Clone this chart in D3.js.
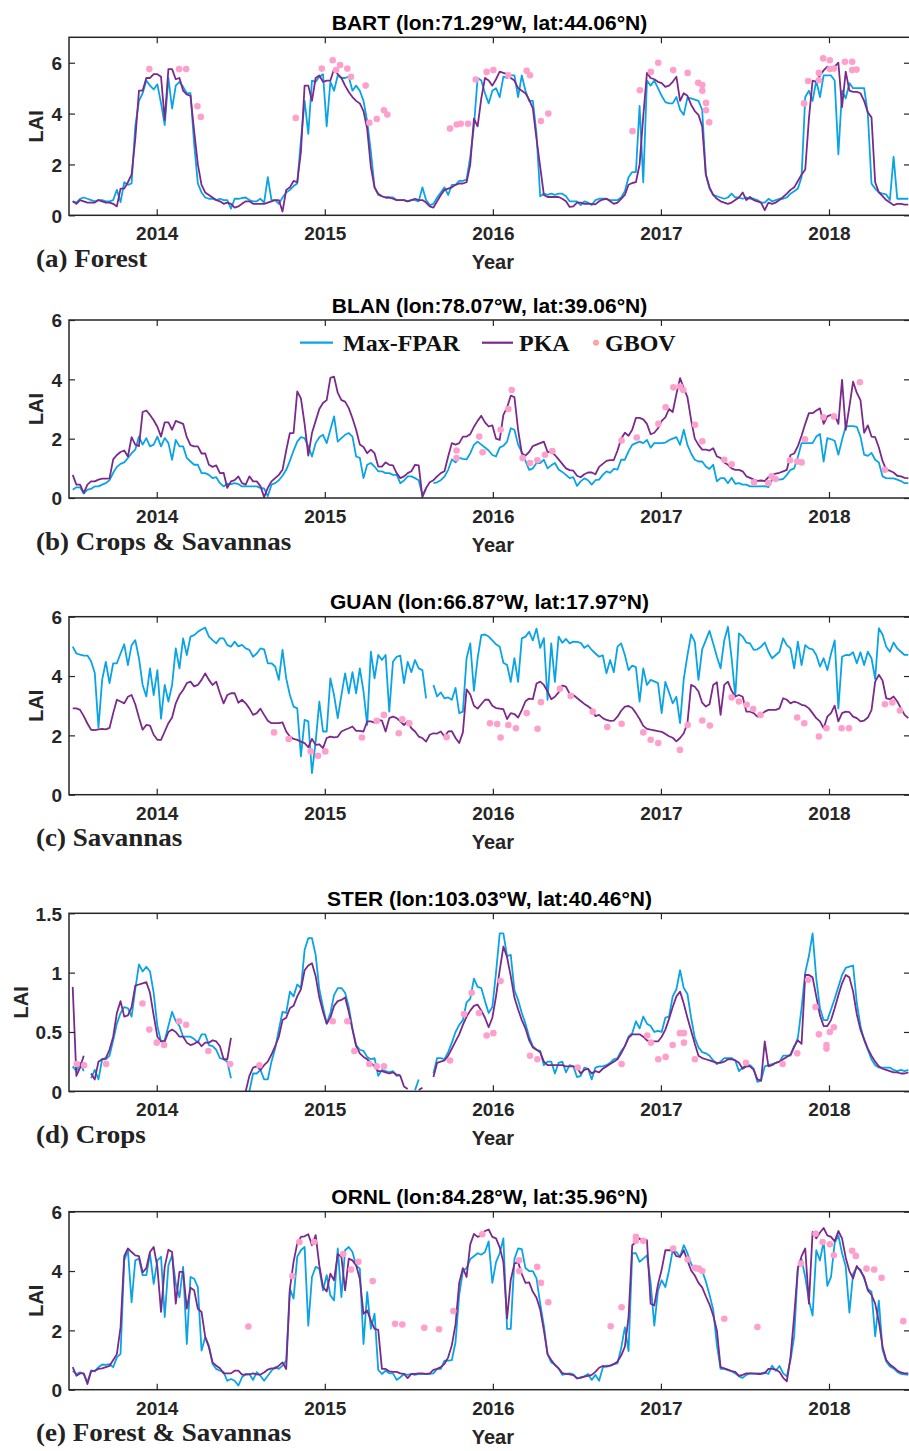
<!DOCTYPE html>
<html><head><meta charset="utf-8">
<script src="https://cdn.jsdelivr.net/npm/d3@7"></script>
<style>body{margin:0;background:#fff}svg{display:block}</style>
</head><body>
<svg id="c" width="909" height="1451"></svg>
<script>
// ---------- DATA ----------
const yearTicks = [2014, 2015, 2016, 2017, 2018];
const nSteps = 228;             // 8-day composites starting mid-2013
const startYear = 2013.5, stepYears = 8 / 365.25;
const dates = d3.range(nSteps).map(i => startYear + i * stepYears);

const titles = ["BART (lon:71.29°W, lat:44.06°N)", "BLAN (lon:78.07°W, lat:39.06°N)",
  "GUAN (lon:66.87°W, lat:17.97°N)", "STER (lon:103.03°W, lat:40.46°N)", "ORNL (lon:84.28°W, lat:35.96°N)"];
const tags = ["(a) Forest", "(b) Crops & Savannas", "(c) Savannas", "(d) Crops", "(e) Forest & Savannas"];
const yMaxes = [7, 6, 6, 1.5, 6];
const yTickSets = [[0,2,4,6],[0,2,4,6],[0,2,4,6],[0,0.5,1,1.5],[0,2,4,6]];
const seriesNames = ["Max-FPAR", "PKA", "GBOV"];

const bartMax = [
0.55,0.5,0.65,0.7,0.65,0.6,0.55,0.6,0.6,0.55,
0.55,0.6,1.0,0.52,1.3,1.2,1.25,3.5,4.5,4.8,
5.3,5.1,4.95,5.15,4.4,3.55,5.4,4.2,5.1,5.25,
5.05,4.8,4.8,2.8,1.25,0.9,0.7,0.65,0.65,0.6,
0.65,0.6,0.6,0.26,0.65,0.65,0.68,0.7,0.6,0.55,
0.55,0.65,0.5,1.5,0.6,0.6,0.45,0.7,0.9,1.0,
1.15,1.25,2.95,4.5,3.2,5.3,5.25,5.45,5.55,3.5,
5.25,4.9,5.5,5.4,5.4,5.45,4.9,5.1,4.9,4.5,
3.7,2.5,1.1,0.8,0.75,0.7,0.7,0.7,0.6,0.6,
0.6,0.55,0.6,0.6,0.55,1.1,0.6,0.4,0.45,0.7,
0.9,1.1,0.8,1.2,1.2,1.35,1.35,1.4,2.3,3.5,
5.4,5.3,4.8,4.4,4.9,5.0,4.65,5.45,5.4,5.5,
5.5,4.65,5.5,4.9,4.5,4.5,3.2,0.75,0.85,0.8,
0.85,0.8,0.85,0.85,0.75,0.55,0.55,0.55,0.4,0.55,
0.5,0.4,0.6,0.65,0.65,0.65,0.6,0.6,0.6,0.7,
0.95,1.5,1.7,1.7,4.3,1.3,5.3,5.1,5.3,5.0,
4.7,4.45,4.4,4.4,4.65,4.15,3.95,4.63,4.6,4.55,
4.5,4.15,1.6,1.05,0.8,0.75,0.7,0.65,0.7,0.85,
0.7,0.7,0.65,0.7,0.65,0.65,0.6,0.5,0.5,0.65,
0.55,0.6,0.65,0.65,0.7,0.85,0.95,1.05,1.5,4.65,
4.9,4.5,5.3,4.65,5.5,5.5,5.5,5.3,2.4,4.9,
4.6,5.2,5.0,5.0,5.0,5.0,4.0,1.25,1.05,0.9,
0.85,0.82,0.6,2.3,0.65,0.65,0.65,0.65];
const bartPka = [
0.55,0.45,0.6,0.55,0.5,0.5,0.5,0.6,0.55,0.5,
0.5,0.45,0.35,1.05,1.05,1.3,1.6,3.0,4.9,4.9,
5.4,5.4,5.55,5.55,5.45,3.75,5.75,5.75,5.35,5.4,
4.9,4.75,4.7,3.3,2.0,1.2,0.9,0.8,0.7,0.6,
0.55,0.45,0.5,0.45,0.3,0.35,0.45,0.55,0.55,0.45,
0.45,0.45,0.45,0.5,0.55,0.6,0.6,0.15,1.0,1.1,
1.35,1.3,2.5,5.1,5.1,4.5,5.4,5.5,5.25,5.3,
5.3,5.75,5.55,5.4,5.1,4.85,4.65,4.5,4.4,4.1,
3.4,1.9,1.1,0.85,0.75,0.7,0.7,0.65,0.6,0.6,
0.6,0.55,0.6,0.65,0.6,0.6,0.5,0.35,0.3,0.55,
0.8,1.0,1.05,1.1,1.2,1.25,1.25,1.3,2.0,3.8,
3.5,4.6,5.4,5.3,5.1,5.35,5.65,5.6,5.55,5.4,
5.3,5.0,4.9,4.8,4.55,4.2,3.0,1.9,0.8,0.72,
0.72,0.72,0.72,0.65,0.55,0.33,0.35,0.5,0.5,0.45,
0.45,0.45,0.43,0.55,0.62,0.65,0.55,0.45,0.5,0.65,
0.8,1.2,1.27,1.3,2.0,3.9,5.6,5.4,5.35,5.25,
5.2,5.05,5.1,5.25,5.45,4.5,4.8,4.7,4.35,4.1,
3.95,3.5,1.6,1.1,0.8,0.65,0.55,0.5,0.45,0.5,
0.6,0.7,0.9,0.6,0.72,0.6,0.55,0.5,0.2,0.5,
0.45,0.5,0.6,0.72,0.85,1.0,1.1,1.35,1.6,1.8,
3.8,5.3,5.25,5.5,5.7,5.85,5.8,5.85,6.0,4.25,
5.65,4.9,4.85,4.85,4.8,4.5,4.05,3.85,1.3,0.9,
0.75,0.6,0.5,0.4,0.45,0.45,0.42,0.42];
const bartGbovT = [2013.956,2014.133,2014.175,2014.242,2014.262,2014.827,2014.982,2015.047,2015.067,2015.091,2015.134,2015.156,2015.243,2015.265,2015.309,2015.352,2015.372,2015.745,2015.785,2015.809,2015.853,2015.898,2015.963,2016.003,2016.092,2016.201,2016.221,2016.286,2016.330,2016.831,2016.875,2016.940,2016.984,2017.073,2017.159,2017.222,2017.246,2017.246,2017.268,2017.268,2017.287,2017.852,2017.876,2017.940,2017.940,2017.966,2018.005,2018.005,2018.029,2018.095,2018.138,2018.138,2018.164];
const bartGbovV = [5.75,5.75,5.75,4.29,3.87,3.83,5.77,6.10,5.71,5.91,5.77,5.45,5.10,3.64,3.79,4.13,3.96,3.41,3.57,3.60,3.60,5.34,5.64,5.71,5.51,5.68,5.51,3.71,4.00,3.31,4.92,5.64,6.00,5.71,5.60,5.21,5.12,4.90,4.42,4.13,3.66,4.40,5.28,5.60,5.31,6.17,6.10,5.75,5.77,6.04,6.04,5.71,5.73];

const blanMax = [
0.28,0.36,0.36,0.15,0.28,0.31,0.39,0.39,0.45,0.5,
0.6,0.85,1.05,1.15,1.2,1.35,1.51,1.63,2.07,1.8,
2.02,1.74,1.8,2.07,1.74,2.02,1.85,1.29,1.96,1.74,
1.74,1.35,1.23,1.12,1.12,0.84,0.84,0.78,0.67,0.7,
0.5,0.39,0.48,0.47,0.5,0.47,0.39,0.39,0.39,0.39,
0.39,0.34,0.32,0.06,0.45,0.5,0.6,0.75,0.95,1.25,
1.6,1.9,2.05,2.02,1.74,1.4,1.85,2.05,2.13,1.85,
2.3,2.75,1.9,2.02,2.13,2.19,2.07,1.4,1.35,0.67,
1.12,1.18,1.06,0.9,0.9,0.84,0.84,0.78,0.78,0.5,
0.59,0.73,0.73,0.67,0.6,0.1,0.3,null,0.5,0.53,
0.6,0.72,0.95,1.3,1.2,1.35,1.32,1.3,1.51,1.79,
1.9,1.8,1.7,1.6,1.45,1.4,1.7,1.76,1.9,2.35,
2.3,1.8,1.55,1.25,0.95,1.0,1.18,1.18,1.29,1.0,
1.1,1.18,0.96,0.88,0.78,0.67,0.7,0.41,0.56,0.66,
0.6,0.45,0.6,0.62,0.78,0.9,0.85,0.98,0.96,1.29,
1.29,1.57,1.79,1.85,1.9,1.85,1.96,1.7,1.85,1.85,
1.85,1.87,1.95,2.0,2.05,1.79,2.3,1.79,1.5,1.29,
1.23,1.23,1.06,0.98,1.12,0.56,0.67,0.67,0.5,0.68,
0.48,0.5,0.45,0.45,0.39,0.39,0.39,0.39,0.4,0.37,
0.62,0.62,0.62,0.64,0.78,0.95,1.0,1.38,1.85,1.85,
1.85,1.85,2.07,2.16,1.23,2.02,1.98,1.93,1.46,1.96,
2.41,2.42,2.42,2.4,2.07,1.46,1.42,1.52,1.29,1.2,
0.73,0.67,0.66,0.66,0.62,0.57,0.5,0.5];
const blanPka = [
0.78,0.45,0.45,0.17,0.45,0.56,0.56,0.62,0.65,0.65,
0.66,1.3,1.45,1.55,1.6,1.4,2.05,1.8,1.75,2.9,
2.95,2.8,2.62,2.4,2.07,2.55,2.55,2.3,2.6,2.55,
2.5,2.05,1.78,1.74,1.74,1.5,1.5,1.12,1.05,1.1,
0.84,0.85,0.34,0.56,0.6,0.73,0.5,0.45,0.73,0.56,
0.56,0.4,0.03,0.34,0.56,0.67,0.78,0.95,1.6,2.19,
2.19,3.59,3.36,2.5,1.43,2.19,2.6,3.0,3.2,3.3,
4.05,4.09,3.55,3.3,3.25,3.03,2.69,2.3,1.8,1.72,
1.51,1.63,1.51,1.06,1.06,1.2,1.12,1.1,0.84,0.67,
0.73,0.84,0.9,1.12,1.1,0.03,0.34,0.53,0.6,0.73,
0.84,0.9,1.4,1.85,1.8,1.85,2.07,2.07,2.15,2.4,
2.6,2.77,2.55,2.41,2.45,2.0,1.96,2.8,3.05,3.45,
3.4,2.3,1.5,1.43,1.55,1.75,1.8,1.85,1.9,1.55,
1.55,1.45,1.3,1.15,1.0,0.94,0.92,0.75,0.7,0.8,
0.86,0.86,0.8,1.05,1.15,1.25,1.28,1.28,1.6,2.0,
2.2,2.1,2.3,2.7,2.7,2.65,2.5,2.15,2.2,2.35,
2.6,2.72,3.0,2.9,3.5,4.04,3.7,3.4,2.63,2.0,
1.79,1.63,1.63,1.6,1.68,1.4,1.35,1.2,1.12,1.0,
0.95,0.95,0.9,0.73,0.68,0.62,0.58,0.59,0.57,0.7,
0.78,0.82,0.85,0.9,0.95,1.45,1.5,1.75,2.1,2.5,
2.86,2.86,2.95,3.02,2.5,2.75,2.8,2.8,2.5,3.98,
2.3,3.08,3.92,3.55,3.3,2.2,2.45,2.07,2.05,1.7,
1.25,0.95,0.92,0.86,0.75,0.73,0.68,0.67];
const blanGbovT = [2015.784,2015.784,2015.919,2015.939,2016.046,2016.092,2016.112,2016.177,2016.221,2016.265,2016.310,2016.354,2016.766,2016.856,2016.985,2017.028,2017.074,2017.113,2017.133,2017.203,2017.246,2017.377,2017.421,2017.554,2017.639,2017.659,2017.682,2017.768,2017.811,2017.837,2017.857,2017.966,2018.029,2018.184,2018.333];
const blanGbovV = [1.60,1.35,2.07,1.54,2.30,3.00,3.64,1.35,1.18,1.27,1.46,1.58,1.94,2.04,2.50,3.06,3.73,3.76,3.64,2.47,1.91,1.29,1.14,0.53,0.50,0.73,0.64,1.27,1.23,1.20,1.98,2.72,2.75,3.90,0.95];

const guanMax = [
4.99,4.76,4.72,4.69,4.69,4.5,4.1,2.26,3.87,4.48,
3.76,4.43,4.43,4.76,5.07,4.37,5.04,5.21,4.6,3.7,
3.31,4.26,3.36,4.2,2.56,3.7,3.14,3.7,4.93,4.26,
5.27,4.71,5.33,5.38,5.49,5.57,5.63,5.33,5.21,5.1,
5.27,5.27,5.04,4.99,5.16,5.0,5.05,4.93,4.88,4.65,
4.76,4.93,4.9,4.43,4.43,4.32,3.87,4.88,3.92,3.36,
2.97,2.91,1.29,2.52,2.47,0.73,1.79,3.14,2.13,2.13,
3.92,3.36,2.58,3.36,4.09,3.42,4.13,3.42,4.26,3.48,
2.35,4.82,3.92,4.71,4.54,4.71,2.8,4.48,4.65,4.69,
3.76,4.48,4.13,4.54,4.26,4.2,3.25,null,3.7,3.31,
3.45,3.25,3.28,3.2,3.6,2.75,2.8,4.6,5.1,3.5,
4.6,5.38,5.4,5.33,5.2,5.07,4.99,4.45,4.37,3.8,
4.6,3.8,5.27,5.33,5.49,5.2,5.6,4.95,5.28,3.2,
5.1,3.8,5.33,5.12,5.25,5.1,5.16,5.15,5.12,4.95,
5.04,4.88,4.76,4.65,4.7,4.09,4.54,4.13,4.99,5.1,
4.71,4.2,4.35,4.3,3.14,4.26,3.7,3.87,3.82,3.76,
2.75,3.8,3.45,3.08,3.3,2.41,3.9,4.7,5.4,5.15,
3.87,4.9,5.21,5.52,5.1,4.65,4.26,5.2,5.66,4.6,
3.31,5.44,5.33,5.13,5.1,4.88,4.9,4.99,5.13,4.82,
4.6,4.71,4.82,5.27,5.04,4.93,4.26,5.16,4.37,5.04,
4.93,4.9,4.71,4.32,4.6,4.2,4.75,5.2,2.91,4.65,
4.71,4.7,4.8,4.43,4.8,4.37,4.82,4.6,3.9,5.61,
5.4,4.99,4.82,5.13,4.93,4.82,4.71,4.71];
const guanPka = [
2.91,2.91,2.86,2.65,2.4,2.19,2.18,2.2,2.22,2.2,
2.25,2.75,3.2,3.14,3.08,3.3,3.36,3.05,2.6,2.19,
2.35,2.33,2.02,1.85,1.85,2.13,2.41,2.6,3.08,3.36,
3.53,3.76,3.81,3.65,3.7,3.87,4.09,3.87,3.7,3.81,
3.42,3.08,3.36,3.42,3.42,3.1,3.2,3.08,2.91,2.69,
2.75,2.9,2.69,2.49,2.41,2.41,2.41,2.44,2.13,1.96,
1.88,1.85,1.79,1.74,1.6,1.88,1.68,1.7,1.57,1.91,
1.96,1.93,1.95,2.13,2.19,2.24,2.3,2.15,2.15,2.13,
2.47,2.47,2.43,2.52,2.5,2.13,2.58,2.63,2.58,2.47,
2.35,2.47,2.24,2.13,1.96,1.91,1.79,2.02,2.07,2.06,
2.13,1.96,2.13,2.14,1.91,1.74,2.1,3.55,3.38,3.0,
2.9,3.05,3.2,3.2,3.0,2.92,2.9,2.88,2.55,2.75,
2.72,2.6,2.85,3.15,3.24,3.22,3.75,3.81,3.7,3.48,
3.22,3.3,3.45,3.68,3.64,3.4,3.36,3.26,3.16,3.06,
2.98,2.88,2.65,2.69,2.58,2.52,2.49,2.5,2.63,2.83,
2.97,2.99,2.92,2.75,2.55,2.32,2.22,2.19,2.17,2.14,
2.12,2.05,1.97,1.92,1.8,1.91,2.07,2.41,3.7,3.64,
3.48,3.1,2.97,3.05,3.7,3.79,2.69,3.7,3.81,3.5,
3.31,3.36,3.3,2.8,2.8,2.75,2.63,2.7,2.8,2.86,
2.86,2.86,2.91,3.25,3.2,3.08,3.14,3.1,3.03,3.0,
2.91,2.75,2.58,2.47,2.24,2.63,2.75,3.0,2.47,2.75,
2.8,2.78,2.63,2.58,2.47,2.5,2.6,2.85,3.81,4.04,
3.85,3.25,3.22,3.31,3.14,2.91,2.69,2.58];
const guanGbovT = [2014.698,2014.785,2014.916,2014.960,2015.003,2015.221,2015.309,2015.352,2015.440,2015.461,2015.503,2015.725,2015.983,2016.026,2016.046,2016.092,2016.137,2016.201,2016.266,2016.286,2016.399,2016.463,2016.594,2016.681,2016.766,2016.895,2016.939,2016.984,2017.113,2017.159,2017.246,2017.291,2017.421,2017.464,2017.510,2017.549,2017.593,2017.811,2017.853,2017.940,2017.985,2018.075,2018.119,2018.333,2018.377,2018.422];
const guanGbovV = [2.10,1.88,1.46,1.31,1.46,1.93,2.49,2.69,2.07,2.54,2.41,1.94,2.41,2.38,1.93,2.35,2.24,2.75,2.22,3.12,3.57,3.33,2.80,2.28,2.39,2.10,1.85,1.74,1.51,2.35,2.50,2.33,3.28,3.14,3.03,2.89,2.69,2.60,2.41,1.96,2.24,2.24,2.24,3.05,3.11,2.84];

const sterMax = [
0.21,0.17,0.24,0.17,null,0.11,0.18,0.1,0.27,0.27,
0.3,0.43,0.57,0.66,0.71,0.7,0.63,0.86,1.07,1.01,
1.05,1.01,0.83,0.55,0.42,0.43,0.55,0.67,0.59,0.55,
0.46,0.46,0.46,0.44,0.41,0.48,0.48,0.39,0.38,0.35,
0.28,0.27,0.25,0.11,null,null,null,null,0.0,0.15,
0.15,0.18,0.1,0.1,0.25,0.36,0.52,0.67,0.66,0.84,
0.8,0.9,0.87,1.19,1.29,1.29,1.15,0.86,0.71,0.57,
0.66,0.81,0.87,0.87,0.83,0.71,0.53,0.39,0.35,0.34,
0.29,0.27,0.28,0.13,0.18,0.17,0.16,0.17,0.13,0.14,
null,null,null,0.01,0.1,null,null,null,0.15,0.28,
0.28,0.27,0.33,0.41,0.5,0.56,0.6,0.75,0.78,0.95,
0.88,0.87,0.76,0.66,0.71,1.0,1.33,1.33,1.14,1.15,
0.85,0.77,0.66,0.57,0.46,0.38,0.35,0.34,0.22,0.25,
0.25,0.15,0.24,0.25,0.16,0.22,0.21,0.12,0.13,0.2,
0.19,0.1,0.2,0.21,0.21,0.22,0.24,0.27,0.28,0.34,
0.38,0.46,0.49,0.59,0.53,0.63,0.57,0.55,0.5,0.51,
0.5,0.62,0.63,0.8,0.86,1.02,0.87,0.82,0.62,0.45,
0.37,0.33,0.32,0.3,0.26,0.23,0.25,0.28,0.28,0.28,
0.26,0.17,0.2,0.22,0.22,0.19,0.08,0.09,0.21,0.22,
0.23,0.24,0.25,0.3,0.3,0.3,0.37,0.45,0.7,1.0,
1.14,1.33,0.95,0.7,0.6,0.6,0.69,0.78,0.88,0.98,
1.04,1.05,1.06,0.75,0.55,0.43,0.35,0.27,0.22,0.2,
0.2,0.2,0.2,0.18,0.17,0.18,0.17,0.18];
const sterPka = [
0.88,0.13,0.2,0.3,null,0.15,0.1,0.25,0.27,0.28,
0.35,0.46,0.66,0.76,0.63,0.64,0.71,0.89,0.9,0.91,
0.92,0.83,0.64,0.46,0.42,0.42,0.5,0.52,0.5,0.46,
0.46,0.41,0.39,0.4,0.42,0.38,0.41,0.41,0.43,0.42,
0.38,0.27,0.27,0.45,null,null,null,0.0,0.13,0.2,
0.21,0.18,0.22,0.25,0.31,0.38,0.46,0.6,0.62,0.7,
0.72,0.8,0.86,1.02,1.06,1.08,0.97,0.79,0.67,0.57,
0.62,0.72,0.76,0.77,0.79,0.67,0.52,0.38,0.32,0.29,
0.27,0.24,0.21,0.17,0.17,0.16,0.15,0.16,0.14,0.13,
0.04,0.02,null,null,0.01,0.03,null,null,0.12,0.24,
0.25,0.26,0.3,0.36,0.42,0.48,0.56,0.63,0.68,0.72,
0.73,0.68,0.62,0.54,0.62,0.8,1.02,1.22,1.13,0.97,
0.79,0.69,0.6,0.53,0.43,0.37,0.35,0.33,0.25,0.22,
0.22,0.22,0.22,0.22,0.21,0.21,0.21,0.2,0.15,0.18,
0.19,0.15,0.17,0.16,0.19,0.21,0.23,0.25,0.27,0.32,
0.38,0.45,0.48,0.48,0.48,0.46,0.43,0.42,0.42,0.42,
0.46,0.52,0.61,0.71,0.8,0.84,0.74,0.62,0.51,0.4,
0.3,0.28,0.27,0.26,0.25,0.24,0.24,0.25,0.27,0.27,
0.26,0.24,0.19,0.21,0.21,0.18,0.1,0.09,0.42,0.21,
0.22,0.24,0.25,0.27,0.29,0.31,0.38,0.43,0.4,0.98,
0.98,0.96,0.8,0.64,0.55,0.55,0.6,0.7,0.81,0.91,
0.98,0.96,0.84,0.65,0.52,0.44,0.36,0.3,0.25,0.21,
0.19,0.18,0.17,0.16,0.16,0.15,0.15,0.16];
const sterGbovT = [2013.524,2013.568,2013.699,2013.915,2013.956,2014.000,2014.044,2014.133,2014.175,2014.307,2014.436,2014.611,2015.047,2015.134,2015.176,2015.265,2015.309,2015.352,2015.745,2015.828,2015.874,2015.917,2015.963,2016.003,2016.046,2016.221,2016.265,2016.505,2016.766,2016.919,2016.941,2016.984,2017.028,2017.070,2017.113,2017.137,2017.137,2017.202,2017.506,2017.724,2017.811,2017.876,2017.920,2017.940,2017.985,2017.985,2018.005,2018.029];
const sterGbovV = [0.23,0.22,0.23,0.74,0.52,0.41,0.39,0.59,0.56,0.34,0.23,0.22,0.59,0.59,0.34,0.23,0.21,0.21,0.26,0.65,0.83,0.66,0.47,0.49,0.93,0.30,0.27,0.20,0.23,0.47,0.41,0.27,0.29,0.39,0.49,0.49,0.41,0.27,0.24,0.23,0.32,0.94,0.71,0.48,0.39,0.36,0.50,0.54];

const ornlMax = [
0.64,0.53,0.59,0.53,0.25,0.65,0.62,0.76,0.85,0.84,
0.86,0.76,1.09,1.21,4.36,4.7,2.95,4.36,4.42,3.86,
3.86,4.59,3.57,4.36,4.48,2.45,4.19,4.53,3.57,3.12,
4.14,1.54,3.8,3.74,3.46,1.32,1.77,1.49,0.87,0.7,
0.64,0.59,0.3,0.36,0.3,0.14,0.42,0.53,0.53,0.33,
0.59,0.47,0.3,0.47,0.64,0.76,0.7,0.81,0.98,3.4,
3.07,4.48,4.7,4.81,2.16,3.8,4.14,4.08,3.35,3.86,
3.18,3.01,4.76,3.12,4.7,4.81,4.64,4.19,4.08,1.54,
3.29,2.05,2.56,0.67,0.53,0.64,0.55,0.55,0.33,0.42,
0.53,0.5,0.53,0.5,0.53,0.53,0.53,0.53,0.55,0.7,
0.7,0.98,0.98,1.0,1.6,3.2,4.0,4.1,4.4,4.5,
4.6,4.55,4.64,5.0,3.6,4.3,4.6,5.1,2.05,2.05,
4.4,4.76,4.74,4.1,4.0,4.0,3.75,2.9,2.15,1.2,
0.92,0.85,0.72,0.5,0.53,0.55,0.52,0.38,0.42,0.45,
0.53,0.33,0.5,0.3,0.74,0.81,0.81,0.86,0.89,1.4,
2.1,1.3,4.6,4.6,4.31,4.42,4.53,3.6,2.16,3.35,
3.69,3.46,4.02,4.7,4.64,4.48,4.87,4.6,4.25,4.02,
4.02,4.0,3.65,3.2,2.7,1.5,0.7,0.7,0.66,0.62,
0.55,0.45,0.4,0.5,0.55,0.53,0.55,0.55,0.58,0.53,
0.81,0.64,0.8,0.55,0.45,1.0,1.8,4.1,4.4,3.8,
3.0,2.5,4.7,4.36,5.0,3.5,3.8,4.95,5.2,4.6,
4.15,2.6,3.91,4.12,4.05,3.75,3.4,3.3,1.8,3.0,
1.35,0.95,0.78,0.72,0.6,0.53,0.52,0.5];
const ornlPka = [
0.76,0.47,0.55,0.55,0.19,0.62,0.64,0.7,0.72,0.76,
0.8,1.0,1.2,2.1,4.5,4.76,4.64,4.53,4.5,3.95,
4.1,4.64,4.81,4.14,2.62,4.14,4.72,4.64,2.9,3.97,
3.97,2.73,3.44,3.35,2.73,2.62,1.78,1.43,0.92,0.81,
0.72,0.55,0.55,0.55,0.64,0.64,0.51,0.51,0.52,0.55,
0.52,0.51,0.58,0.68,0.72,0.72,0.81,0.92,0.7,3.4,
4.31,4.93,5.15,5.17,5.24,4.87,5.21,4.19,3.46,3.31,
3.91,3.69,4.57,4.48,3.35,4.42,4.36,4.19,3.74,2.56,
2.67,2.33,2.05,2.02,0.7,0.7,0.62,0.6,0.6,0.55,
0.53,0.39,0.53,0.53,0.55,0.55,0.53,0.55,0.67,0.7,
0.76,0.87,1.09,1.5,2.2,3.6,4.1,3.8,4.9,5.25,
5.15,5.2,5.35,5.4,5.15,5.1,4.8,4.3,2.4,3.7,
4.25,4.3,3.9,3.6,3.62,3.3,3.1,2.7,2.0,1.2,
1.0,0.83,0.72,0.56,0.53,0.52,0.49,0.38,0.4,0.44,
0.47,0.5,0.6,0.74,0.8,0.78,0.81,0.86,0.95,1.15,
1.45,2.45,4.87,4.98,5.1,4.98,5.04,2.9,2.84,3.55,
4.05,4.7,4.7,4.7,4.5,4.48,4.7,4.36,4.02,3.85,
3.6,3.45,3.15,2.87,2.5,2.0,0.76,0.72,0.68,0.63,
0.6,0.47,0.5,0.55,0.55,0.55,0.53,0.53,0.56,0.7,
0.7,0.68,0.6,0.4,0.28,1.1,2.5,4.1,4.5,4.76,
2.9,5.32,5.1,5.3,5.45,5.2,5.15,5.0,5.35,5.1,
4.45,4.0,3.75,4.17,4.0,3.8,3.35,3.2,2.9,2.3,
1.45,1.0,0.85,0.76,0.65,0.58,0.55,0.55];
const ornlGbovT = [2014.545,2014.807,2014.849,2014.936,2015.110,2015.156,2015.200,2015.285,2015.418,2015.461,2015.592,2015.680,2015.765,2015.937,2016.157,2016.157,2016.264,2016.286,2016.330,2016.701,2016.766,2016.851,2016.851,2016.895,2017.073,2017.159,2017.202,2017.226,2017.246,2017.377,2017.574,2017.833,2017.920,2017.962,2018.005,2018.029,2018.138,2018.160,2018.223,2018.269,2018.313,2018.442];
const ornlGbovV = [2.13,3.83,4.98,4.98,4.57,4.05,4.31,3.66,2.22,2.20,2.09,2.04,2.65,5.24,4.36,4.00,4.14,3.60,2.95,2.14,2.78,5.15,5.02,5.02,4.76,4.39,4.11,4.08,4.00,2.39,2.11,4.25,5.26,4.98,4.90,4.53,4.68,4.51,4.08,4.05,3.77,2.31];

// ---------- LAYOUT / STYLE ----------
const panelTops = [37.3, 320, 616.7, 913.3, 1211.7];
const panelHeight = 178;
const plotLeft = 69, plotRight = 910;
const BLUE = "#0aa4e6", PURPLE = "#7b2a8c", PINK = "#ff9fcb", AXIS = "#262626";
const SANS = "'Liberation Sans', Arial, Helvetica, sans-serif";
const SERIF = "'Liberation Serif', 'Times New Roman', serif";

const maxSeries = [bartMax, blanMax, guanMax, sterMax, ornlMax];
const pkaSeries = [bartPka, blanPka, guanPka, sterPka, ornlPka];
const gbovT = [bartGbovT, blanGbovT, guanGbovT, sterGbovT, ornlGbovT];
const gbovV = [bartGbovV, blanGbovV, guanGbovV, sterGbovV, ornlGbovV];

const svg = d3.select("#c");
const x = d3.scaleLinear().domain([2013.478, 2018.482]).range([plotLeft, plotRight]);
const defs = svg.append("defs");

titles.forEach((title, k) => {
  const top = panelTops[k], bottom = top + panelHeight;
  const y = d3.scaleLinear().domain([0, yMaxes[k]]).range([bottom, top]);
  const g = svg.append("g");

  defs.append("clipPath").attr("id", "clip" + k).append("rect")
    .attr("x", plotLeft).attr("y", top).attr("width", plotRight - plotLeft).attr("height", panelHeight);

  const line = d3.line().defined(d => d[1] != null).x(d => x(d[0])).y(d => y(d[1]));
  const plot = g.append("g").attr("clip-path", `url(#clip${k})`);
  plot.append("path").datum(dates.map((t, i) => [t, maxSeries[k][i]]))
    .attr("d", line).attr("fill", "none").attr("stroke", BLUE)
    .attr("stroke-width", 1.8).attr("stroke-linejoin", "round");
  plot.append("path").datum(dates.map((t, i) => [t, pkaSeries[k][i]]))
    .attr("d", line).attr("fill", "none").attr("stroke", PURPLE)
    .attr("stroke-width", 1.8).attr("stroke-linejoin", "round");
  plot.selectAll("circle").data(gbovT[k].map((t, i) => [t, gbovV[k][i]])).join("circle")
    .attr("cx", d => x(d[0])).attr("cy", d => y(d[1])).attr("r", 3.3).attr("fill", PINK);

  // axes
  const styleAxis = sel => {
    sel.select(".domain").remove();
    sel.selectAll(".tick line").attr("stroke", AXIS).attr("stroke-width", 1.2);
    sel.selectAll("text").attr("fill", AXIS).attr("font-family", SANS)
      .attr("font-weight", "bold").attr("font-size", 19);
  };
  const xb = g.append("g").attr("transform", `translate(0,${bottom})`)
    .call(d3.axisBottom(x).tickValues(yearTicks).tickFormat(d3.format("d")).tickSizeInner(-6).tickSizeOuter(0));
  styleAxis(xb); xb.selectAll("text").attr("y", 25).attr("dy", null);
  const xt = g.append("g").attr("transform", `translate(0,${top})`)
    .call(d3.axisTop(x).tickValues(yearTicks).tickFormat("").tickSizeInner(-6).tickSizeOuter(0));
  styleAxis(xt);
  const yl = g.append("g").attr("transform", `translate(${plotLeft},0)`)
    .call(d3.axisLeft(y).tickValues(yTickSets[k]).tickFormat(d => d).tickSizeInner(-6).tickSizeOuter(0).tickPadding(7));
  styleAxis(yl); yl.selectAll("text").attr("dy", "0.36em");
  const yr = g.append("g").attr("transform", `translate(${plotRight},0)`)
    .call(d3.axisRight(y).tickValues(yTickSets[k]).tickFormat("").tickSizeInner(-6).tickSizeOuter(0));
  styleAxis(yr);

  g.append("rect").attr("x", plotLeft).attr("y", top).attr("width", plotRight - plotLeft)
    .attr("height", panelHeight).attr("fill", "none").attr("stroke", AXIS).attr("stroke-width", 1.5);

  // y label position depends on widest tick label
  let maxW = 0;
  yl.selectAll("text").each(function () { maxW = Math.max(maxW, this.getComputedTextLength()); });
  const labX = plotLeft - 7 - maxW - 8;
  g.append("text").attr("transform", `translate(${labX},${(top + bottom) / 2}) rotate(-90)`)
    .attr("text-anchor", "middle").attr("font-family", SANS).attr("font-weight", "bold")
    .attr("font-size", 20).attr("fill", AXIS).text("LAI");

  g.append("text").attr("x", (plotLeft + plotRight) / 2).attr("y", top - 7.5)
    .attr("text-anchor", "middle").attr("font-family", SANS).attr("font-weight", "bold")
    .attr("font-size", 21).attr("fill", "#000").text(title);

  g.append("text").attr("x", x(2016)).attr("y", bottom + 54)
    .attr("text-anchor", "middle").attr("font-family", SANS).attr("font-weight", "bold")
    .attr("font-size", 20).attr("fill", AXIS).text("Year");

  // panel tag: slightly wide serif face (cap height ~25px font, width of ~27px font)
  const tag = g.append("text").attr("x", 36).attr("y", bottom + 51.5)
    .attr("font-family", SERIF).attr("font-weight", "bold")
    .attr("font-size", 25).attr("fill", "#222").text(tags[k]);
  const natural = tag.node().getComputedTextLength();
  tag.attr("textLength", natural * 1.08).attr("lengthAdjust", "spacingAndGlyphs");

  if (k === 1) {
    const ly = 342.7;
    const leg = g.append("g").attr("font-family", SERIF).attr("font-weight", "bold")
      .attr("font-size", 24).attr("fill", "#111");
    leg.append("line").attr("x1", 300).attr("x2", 333).attr("y1", ly).attr("y2", ly)
      .attr("stroke", BLUE).attr("stroke-width", 2.2);
    leg.append("text").attr("x", 343).attr("y", ly + 8.5).text(seriesNames[0]);
    leg.append("line").attr("x1", 482).attr("x2", 513).attr("y1", ly).attr("y2", ly)
      .attr("stroke", PURPLE).attr("stroke-width", 2.2);
    leg.append("text").attr("x", 519).attr("y", ly + 8.5).text(seriesNames[1]);
    leg.append("circle").attr("cx", 596).attr("cy", ly).attr("r", 2.6)
      .attr("fill", PINK).attr("stroke", "#f5a05a").attr("stroke-width", 0.8);
    leg.append("text").attr("x", 605).attr("y", ly + 8.5).text(seriesNames[2]);
  }
});
</script>
</body></html>
